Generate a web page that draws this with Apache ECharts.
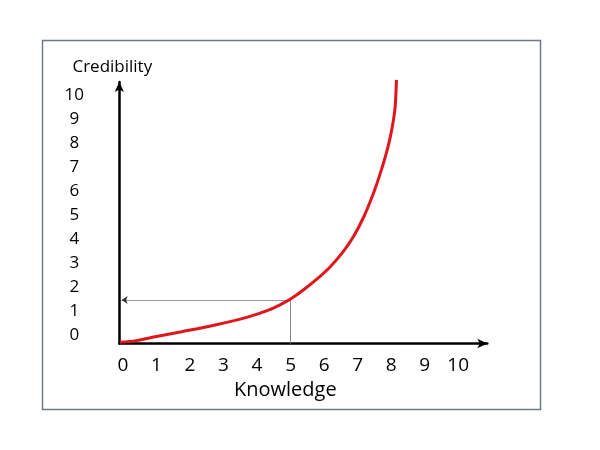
<!DOCTYPE html>
<html><head><meta charset="utf-8">
<script src="https://cdn.jsdelivr.net/npm/echarts@6/dist/echarts.min.js"></script>
<style>html,body{margin:0;padding:0;background:#fff}#c{width:600px;height:450px}</style>
</head><body><div id="c"></div>
<script>
// Data
const curveX = [-0.09, 0.4, 0.96, 1.75, 2.75, 3.74, 4.34, 4.74, 5.0, 5.4, 5.8, 6.2, 6.6, 6.9, 7.2, 7.45, 7.65, 7.82, 7.95, 8.05, 8.12, 8.16];
const curveY = [-0.3, -0.23, -0.07, 0.14, 0.42, 0.76, 1.04, 1.3, 1.5, 1.9, 2.35, 2.87, 3.53, 4.16, 4.97, 5.82, 6.62, 7.39, 8.09, 8.79, 9.49, 10.63];
const xTicks = [0,1,2,3,4,5,6,7,8,9,10];
const yTicks = [0,1,2,3,4,5,6,7,8,9,10];
const guideX = 5, guideY = 1.46;
const xRange = [-0.11, 10.87];
const yRange = [-0.35, 10.54];
const xName = 'Knowledge', yName = 'Credibility';

const font = '"Open Sans", sans-serif';
const chart = echarts.init(document.getElementById('c'), null, {renderer:'canvas'});
chart.setOption({
  animation:false,
  backgroundColor:'#fff',
  graphic:[{type:'rect', shape:{x:42.5, y:40.5, width:498, height:369}, style:{fill:'none', stroke:'#6d7a8a', lineWidth:1.5}, silent:true}],
  grid:{left:119.3, right:112.7, top:82, bottom:106.5, containLabel:false},
  xAxis:{type:'value', min:xRange[0], max:xRange[1],
    axisLine:{show:true, onZero:false, lineStyle:{color:'#000', width:2.5}, symbol:['none','arrow'], symbolSize:[7,10]},
    axisTick:{show:false}, splitLine:{show:false},
    axisLabel:{customValues:xTicks, fontFamily:font, fontSize:19, color:'#000', margin:13},
    name:xName, nameLocation:'middle', nameGap:34,
    nameTextStyle:{fontFamily:font, fontSize:20, color:'#000', padding:[0,36,0,0]}
  },
  yAxis:{type:'value', min:yRange[0], max:yRange[1],
    axisLine:{show:true, onZero:false, lineStyle:{color:'#000', width:2.5}, symbol:['none','arrow'], symbolSize:[7,10]},
    axisTick:{show:false}, splitLine:{show:false},
    axisLabel:{customValues:yTicks, fontFamily:font, fontSize:17, color:'#000', margin:45, align:'center'},
    name:yName, nameLocation:'end', nameGap:6,
    nameTextStyle:{fontFamily:font, fontSize:17, color:'#000', padding:[0,14,0,0]}
  },
  series:[
    {type:'line', data:curveX.map((x,i)=>[x,curveY[i]]), smooth:0.3, showSymbol:false, clip:false,
      lineStyle:{color:'#e0161c', width:3}, z:5,
      markLine:{silent:true, animation:false, label:{show:false}, symbol:'none',
        data:[
          [{coord:[guideX,guideY], symbol:'none', lineStyle:{type:'dotted', color:'#333', width:1}},
           {coord:[-0.04,guideY], symbol:'arrow', symbolSize:6}],
          [{coord:[guideX,guideY], symbol:'none', lineStyle:{type:'solid', color:'#888', width:1}},
           {coord:[guideX,yRange[0]], symbol:'none'}]
        ]}
    }
  ]
});
</script></body></html>
